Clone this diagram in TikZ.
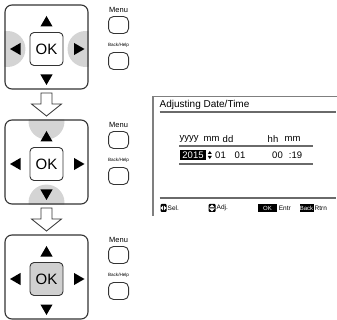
\documentclass[tikz,border=0pt]{standalone}
\usepackage{fontspec}
\setmainfont{Liberation Sans}
\usetikzlibrary{positioning,calc,shapes.geometric,backgrounds}
\definecolor{padline}{HTML}{333333}
\definecolor{padshade}{HTML}{D4D4D4}
\definecolor{okshade}{HTML}{D0D0D0}
\definecolor{lcdframe}{HTML}{7F7F7F}
\definecolor{lcdrule}{HTML}{6A6A6A}
\tikzset{
  % the direction pad
  pad/.style={draw=padline, rounded corners=7pt, minimum width=83pt,
    minimum height=84pt, inner sep=0pt, line width=1.1pt},
  okkey/.style={draw=padline, rounded corners=4pt, minimum size=33pt,
    inner sep=0pt, line width=0.9pt, font=\fontsize{15}{15}\selectfont},
  tri/.style={regular polygon, regular polygon sides=3, fill=black,
    draw=none, inner sep=0pt, minimum size=14pt},
  uptri/.style={tri},
  dntri/.style={tri, rotate=180},
  lftri/.style={tri, rotate=90},
  rttri/.style={tri, rotate=-90},
  % the side keys
  sidekey/.style={draw=padline, rounded corners=5pt, minimum width=20pt,
    minimum height=17pt, inner sep=0pt, line width=0.9pt},
  keylabel/.style={inner sep=0pt, font=\fontsize{7.5}{8}\selectfont},
  smalllabel/.style={inner sep=0pt, font=\fontsize{4.6}{5}\selectfont},
  hollow/.style={draw=padline, fill=white, line width=0.8pt, line join=miter},
  % the screen
  lcdtxt/.style={inner sep=0pt, font=\fontsize{9.5}{11}\selectfont},
  lcdrow/.style={lcdrule, line width=1.4pt},
  stattxt/.style={inner sep=0pt, anchor=west, font=\fontsize{6.5}{7}\selectfont},
  stattag/.style={fill=black, text=white, inner sep=0pt, minimum height=8pt,
    font=\fontsize{6}{6}\selectfont},
  staticon/.style={fill=black, rounded corners=1pt, minimum width=6pt,
    minimum height=8pt, inner sep=0pt},
}
\begin{document}
\begin{tikzpicture}[x=1pt,y=-1pt]
  \useasboundingbox (0,0) rectangle (337,320);
  % the three pads
  \node[pad] (pad1) at (46.5,47) {};
  \node[pad] (pad2) at (46.5,162) {};
  \node[pad] (pad3) at (46.5,277) {};
  \begin{scope}[on background layer]
    \begin{scope}
      \clip[rounded corners=7pt] (pad1.south west) rectangle (pad1.north east);
      \fill[padshade] ($(pad1.west)+(3,2)$) circle (18pt);
      \fill[padshade] ($(pad1.east)+(-3,2)$) circle (18pt);
    \end{scope}
    \begin{scope}
      \clip[rounded corners=7pt] (pad2.south west) rectangle (pad2.north east);
      \fill[padshade] ($(pad2.north)+(0,2)$) circle (18pt);
      \fill[padshade] ($(pad2.south)+(0,-2)$) circle (18pt);
    \end{scope}
  \end{scope}
  \node[okkey] (ok1) at ($(pad1)+(0,2)$) {OK};
  \node[okkey] (ok2) at ($(pad2)+(0,2)$) {OK};
  \node[okkey, fill=okshade] (ok3) at ($(pad3)+(0,2)$) {OK};
  \node[uptri] (up1) at ($(pad1)+(0,-24)$) {};
  \node[dntri] (dn1) at ($(pad1)+(0,31)$) {};
  \node[lftri] (lf1) at ($(pad1)+(-29.5,2)$) {};
  \node[rttri] (rt1) at ($(pad1)+(31,2)$) {};
  \node[uptri] (up2) at ($(pad2)+(0,-24)$) {};
  \node[dntri] (dn2) at ($(pad2)+(0,31)$) {};
  \node[lftri] (lf2) at ($(pad2)+(-29.5,2)$) {};
  \node[rttri] (rt2) at ($(pad2)+(31,2)$) {};
  \node[uptri] (up3) at ($(pad3)+(0,-24)$) {};
  \node[dntri] (dn3) at ($(pad3)+(0,31)$) {};
  \node[lftri] (lf3) at ($(pad3)+(-29.5,2)$) {};
  \node[rttri] (rt3) at ($(pad3)+(31,2)$) {};
  % hollow arrows between the pads
  \coordinate (a1) at ($(pad1.south)!0.5!(pad2.north)$);
  \coordinate (a2) at ($(pad2.south)!0.5!(pad3.north)$);
  \draw[hollow] (a1) ++(-5.5,-11.5) -- ++(0,11) -- ++(-9.5,0) -- ++(15,12)
    -- ++(15,-12) -- ++(-9.5,0) -- ++(0,-11) -- cycle;
  \draw[hollow] (a2) ++(-5.5,-11.5) -- ++(0,11) -- ++(-9.5,0) -- ++(15,12)
    -- ++(15,-12) -- ++(-9.5,0) -- ++(0,-11) -- cycle;
  % side keys
  \node[sidekey] (menu1) at ($(pad1.east)+(30,-22)$) {};
  \node[sidekey] (back1) at ($(pad1.east)+(30,14)$) {};
  \node[sidekey] (menu2) at ($(pad2.east)+(30,-22)$) {};
  \node[sidekey] (back2) at ($(pad2.east)+(30,14)$) {};
  \node[sidekey] (menu3) at ($(pad3.east)+(30,-22)$) {};
  \node[sidekey] (back3) at ($(pad3.east)+(30,14)$) {};
  \node[keylabel, above=3pt of menu1] {Menu};
  \node[keylabel, above=3pt of menu2] {Menu};
  \node[keylabel, above=3pt of menu3] {Menu};
  \node[smalllabel, above=4pt of back1] {Back/Help};
  \node[smalllabel, above=4pt of back2] {Back/Help};
  \node[smalllabel, above=4pt of back3] {Back/Help};
  % the screen
  \draw[lcdframe, line width=1.2pt] (153,216) -- (153,96.5) -- (337,96.5);
  \node[lcdtxt, anchor=west, font=\fontsize{10}{12}\selectfont] (title)
    at (159.5,104.5) {Adjusting Date/Time};
  \draw[lcdrule, line width=1.2pt] (159.5,112) -- (336,112);
  \node[lcdtxt] (yyyy) at (189,139) {yyyy};
  \node[lcdtxt] (mon) at (211.5,139) {mm};
  \node[lcdtxt] (day) at (228,139) {dd};
  \node[lcdtxt] (hour) at (273,139) {hh};
  \node[lcdtxt] (min) at (292.5,139) {mm};
  \draw[lcdrow] (179,146) -- (313,146);
  \node[lcdtxt, fill=black, text=white, inner xsep=2pt, minimum height=9.5pt]
    (year) at (193,155) {2015};
  \fill (year.east) ++(2,-1) -- ++(4,0) -- ++(-2,-3) -- cycle;
  \fill (year.east) ++(2,1) -- ++(4,0) -- ++(-2,3) -- cycle;
  \node[lcdtxt] (vmon) at (220.5,155) {01};
  \node[lcdtxt] (vday) at (240,155) {01};
  \node[lcdtxt] (vhour) at (277.5,155) {00};
  \node[lcdtxt] (vmin) at (295.5,155) {:19};
  \draw[lcdrow] (179,164) -- (313,164);
  \draw[lcdrule, line width=1.2pt] (159.5,198) -- (336,198);
  % status bar
  \node[staticon] (sel) at (163.5,208) {};
  \fill[white] (sel.center) ++(-0.5,-2.5) -- ++(0,5) -- ++(-2.3,-2.5) -- cycle;
  \fill[white] (sel.center) ++(0.5,-2.5) -- ++(0,5) -- ++(2.3,-2.5) -- cycle;
  \node[stattxt] at (167.5,208) {Sel.};
  \node[staticon, minimum width=7pt] (adj) at (212,208) {};
  \fill[white] (adj.center) ++(-2.8,-0.5) -- ++(5.6,0) -- ++(-2.8,-2.8) -- cycle;
  \fill[white] (adj.center) ++(-2.8,0.5) -- ++(5.6,0) -- ++(-2.8,2.8) -- cycle;
  \node[stattxt] at (216.5,208) {Adj.};
  \node[stattag, minimum width=19pt] (okt) at (267.5,208) {OK};
  \node[stattxt, right=1.5pt of okt] {Entr};
  \node[stattag, minimum width=14pt] (backt) at (306.5,208) {Back};
  \node[stattxt, right=0.8pt of backt] {Rtrn};
\end{tikzpicture}
\end{document}
